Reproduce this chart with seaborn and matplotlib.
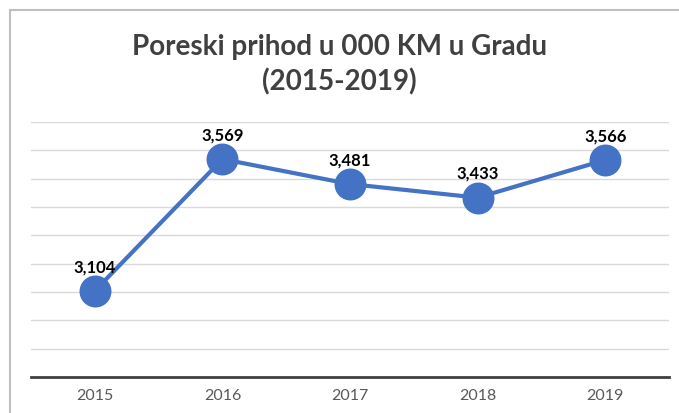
import matplotlib
matplotlib.use("Agg")
import matplotlib.pyplot as plt
import seaborn as sns
import pandas as pd
from matplotlib.patches import Rectangle

# data
years = ["2015", "2016", "2017", "2018", "2019"]
prihod = [3104, 3569, 3481, 3433, 3566]

df = pd.DataFrame({"godina": years, "prihod": prihod})

sns.set_style("white")
plt.rcParams["font.family"] = ["Lato", "DejaVu Sans"]

fig = plt.figure(figsize=(6.79, 4.14), dpi=100)
ax = fig.add_axes([31 / 679, 1 - 378 / 414, 638 / 679, 255 / 414])

# grey frame around the chart (cut off at right and bottom)
fig.patches.append(Rectangle((10 / 679, -0.2), 1.2, 0.2 + 1 - 11 / 414,
                             transform=fig.transFigure, fill=False,
                             edgecolor="#BFBFBF", linewidth=1.5))

sns.lineplot(data=df, x="godina", y="prihod", ax=ax, color="#4472C4",
             linewidth=3, marker="o", markersize=23, markeredgewidth=0,
             zorder=3)

ax.set_xlim(-0.5, 4.5)
ax.set_ylim(2800, 3700)
ax.set_yticks(range(2800, 3701, 100))
ax.yaxis.grid(True, color="#D9D9D9", linewidth=1)
ax.set_yticklabels([])
ax.tick_params(axis="y", length=0)
ax.tick_params(axis="x", length=0, labelsize=11.5, labelcolor="#595959", pad=8)
ax.set_xlabel("")
ax.set_ylabel("")
for s in ["left", "right", "top"]:
    ax.spines[s].set_visible(False)
ax.spines["bottom"].set_color("#404040")
ax.spines["bottom"].set_linewidth(2)

for i, v in enumerate(prihod):
    ax.annotate(f"{v:,}", (i, v), xytext=(0, 12), textcoords="offset points",
                ha="center", va="bottom", fontsize=12, fontweight="bold",
                color="black")

fig.text(0.5, 1 - 47 / 414, "Poreski prihod u 000 KM u Gradu", ha="center",
         va="center", fontsize=20, fontweight="bold", color="#404040")
fig.text(0.5, 1 - 82 / 414, "(2015-2019)", ha="center", va="center",
         fontsize=20, fontweight="bold", color="#404040")

fig.savefig("out.png", dpi=100)
